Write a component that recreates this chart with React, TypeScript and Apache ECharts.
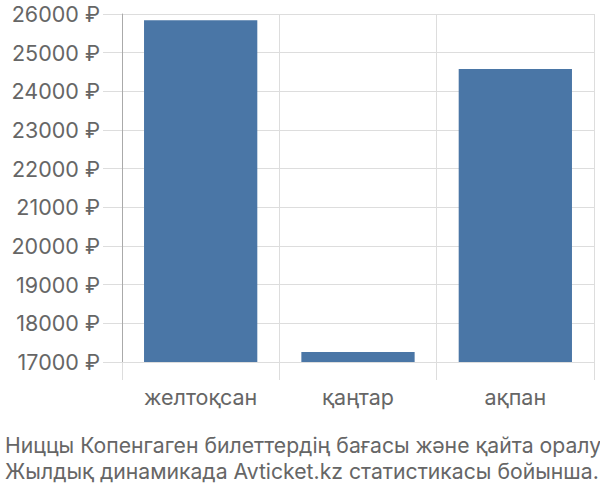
import React, { useEffect, useRef } from "react";
import * as echarts from "echarts";

const categories = ["желтоқсан", "қаңтар", "ақпан"];
const prices = [25840, 17260, 24580];
const yMin = 17000;
const yMax = 26000;
const yStep = 1000;
const caption = [
  "Ниццы Копенгаген билеттердің бағасы және қайта оралу",
  "Жылдық динамикада Avticket.kz статистикасы бойынша.",
];

export default function App() {
  const ref = useRef<HTMLDivElement>(null);
  useEffect(() => {
    if (!ref.current) return;
    const chart = echarts.init(ref.current, null, { renderer: "svg" });
    const font = "Inter, Liberation Sans, Arial, sans-serif";
    chart.setOption({
      animation: false,
      textStyle: { fontFamily: font },
      title: {
        text: caption.join("\n"),
        left: 0,
        top: 427,
        textStyle: {
          fontFamily: font,
          fontSize: 21.2,
          fontWeight: "normal",
          color: "#666",
          lineHeight: 26,
        },
      },
      grid: { left: 122, right: 6, top: 14, bottom: 138 },
      xAxis: {
        type: "category",
        data: categories,
        axisLine: { show: true, lineStyle: { color: "#ddd" } },
        axisTick: { show: true, length: 18, alignWithLabel: false, lineStyle: { color: "#ddd" } },
        splitLine: { show: true, lineStyle: { color: "#ddd" } },
        axisLabel: { color: "#666", fontSize: 21.5, margin: 24, fontFamily: font },
      },
      yAxis: {
        type: "value",
        min: yMin,
        max: yMax,
        interval: yStep,
        axisLine: { show: true, lineStyle: { color: "#aaa" } },
        axisTick: { show: true, length: 19, lineStyle: { color: "#ddd" } },
        splitLine: { show: true, lineStyle: { color: "#ddd" } },
        axisLabel: {
          color: "#666",
          fontSize: 21.5,
          margin: 22,
          fontFamily: font,
          formatter: (v: number) => `${v} ₽`,
        },
      },
      series: [
        {
          type: "bar",
          data: prices,
          barWidth: "72%",
          itemStyle: { color: "#4a76a6" },
        },
      ],
    });
    return () => chart.dispose();
  }, []);
  return <div ref={ref} style={{ position: "absolute", left: 0, top: 0, width: 600, height: 500 }} />;
}
